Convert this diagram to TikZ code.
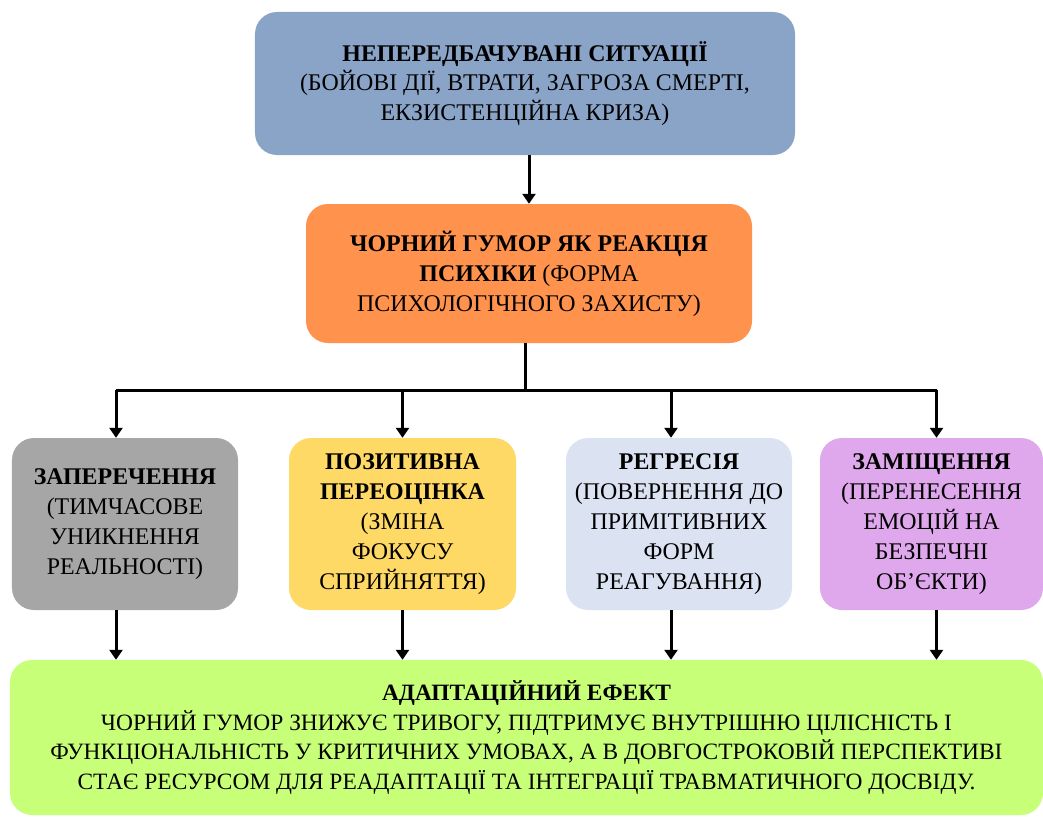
\documentclass[tikz,border=0pt]{standalone}
\usepackage{fontspec}
\setmainfont{Liberation Serif}
\usepackage{xcolor}
\usetikzlibrary{arrows.meta}
\definecolor{sitblue}{RGB}{138,164,200}
\definecolor{humorange}{RGB}{255,146,77}
\definecolor{denygray}{RGB}{166,166,166}
\definecolor{posyellow}{RGB}{255,217,102}
\definecolor{regblue}{RGB}{219,227,242}
\definecolor{subviolet}{RGB}{224,168,236}
\definecolor{effgreen}{RGB}{200,255,120}
\begin{document}
\begin{tikzpicture}[x=1bp,y=-1bp,
	box/.style={rounded corners=22bp, align=center, inner sep=0pt,
		font=\fontsize{24}{30}\selectfont},
	arr/.style={line width=3bp,-{Triangle[width=13bp,length=10bp]}},
	bar/.style={line width=3bp}]
	\useasboundingbox (0,0) rectangle (1043,817);
	% situations
	\node[box, fill=sitblue, minimum width=540bp, minimum height=143bp] (sit) at (525,83.5)
		{\textbf{НЕПЕРЕДБАЧУВАНІ СИТУАЦІЇ}\\(БОЙОВІ ДІЇ, ВТРАТИ, ЗАГРОЗА СМЕРТІ,\\ЕКЗИСТЕНЦІЙНА КРИЗА)};
	% reaction
	\node[box, fill=humorange, minimum width=446bp, minimum height=139bp] (humor) at (529,273.5)
		{\textbf{ЧОРНИЙ ГУМОР ЯК РЕАКЦІЯ}\\\textbf{ПСИХІКИ} (ФОРМА\\ПСИХОЛОГІЧНОГО ЗАХИСТУ)};
	% four mechanisms
	\node[box, fill=denygray, minimum width=226bp, minimum height=172bp] (deny) at (125,524)
		{\textbf{ЗАПЕРЕЧЕННЯ}\\(ТИМЧАСОВЕ\\УНИКНЕННЯ\\РЕАЛЬНОСТІ)};
	\node[box, fill=posyellow, minimum width=227bp, minimum height=172bp] (pos) at (402.5,524)
		{\textbf{ПОЗИТИВНА}\\\textbf{ПЕРЕОЦІНКА}\\(ЗМІНА\\ФОКУСУ\\СПРИЙНЯТТЯ)};
	\node[box, fill=regblue, minimum width=226bp, minimum height=172bp] (regr) at (679,524)
		{\textbf{РЕГРЕСІЯ}\\(ПОВЕРНЕННЯ ДО\\ПРИМІТИВНИХ\\ФОРМ\\РЕАГУВАННЯ)};
	\node[box, fill=subviolet, minimum width=223bp, minimum height=172bp] (subst) at (931.5,524)
		{\textbf{ЗАМІЩЕННЯ}\\(ПЕРЕНЕСЕННЯ\\ЕМОЦІЙ НА\\БЕЗПЕЧНІ\\ОБ’ЄКТИ)};
	% effect
	\node[box, fill=effgreen, minimum width=1033bp, minimum height=155bp,
		font=\fontsize{23.5}{29.5}\selectfont] (eff) at (526.5,737.5)
		{\textbf{АДАПТАЦІЙНИЙ ЕФЕКТ}\\ЧОРНИЙ ГУМОР ЗНИЖУЄ ТРИВОГУ, ПІДТРИМУЄ ВНУТРІШНЮ ЦІЛІСНІСТЬ І\\
		ФУНКЦІОНАЛЬНІСТЬ У КРИТИЧНИХ УМОВАХ, А В ДОВГОСТРОКОВІЙ ПЕРСПЕКТИВІ\\
		СТАЄ РЕСУРСОМ ДЛЯ РЕАДАПТАЦІЇ ТА ІНТЕГРАЦІЇ ТРАВМАТИЧНОГО ДОСВІДУ.};
	% arrows
	\draw[arr] (sit.south -| humor.north) -- (humor.north);
	\coordinate (bus) at (525,390);
	\draw[bar] (humor.south -| bus) -- (bus);
	\draw[bar] ([xshift=-9bp]bus -| deny.north) -- ([xshift=5bp]bus -| subst.north);
	\foreach \b/\s in {deny/-9,pos/0,regr/-8,subst/5}{
		\draw[arr] ([xshift=\s bp]bus -| \b.north) -- ([xshift=\s bp]\b.north);
		\draw[arr] ([xshift=\s bp]\b.south) -- ([xshift=\s bp]\b.south |- eff.north);
	}
\end{tikzpicture}
\end{document}
